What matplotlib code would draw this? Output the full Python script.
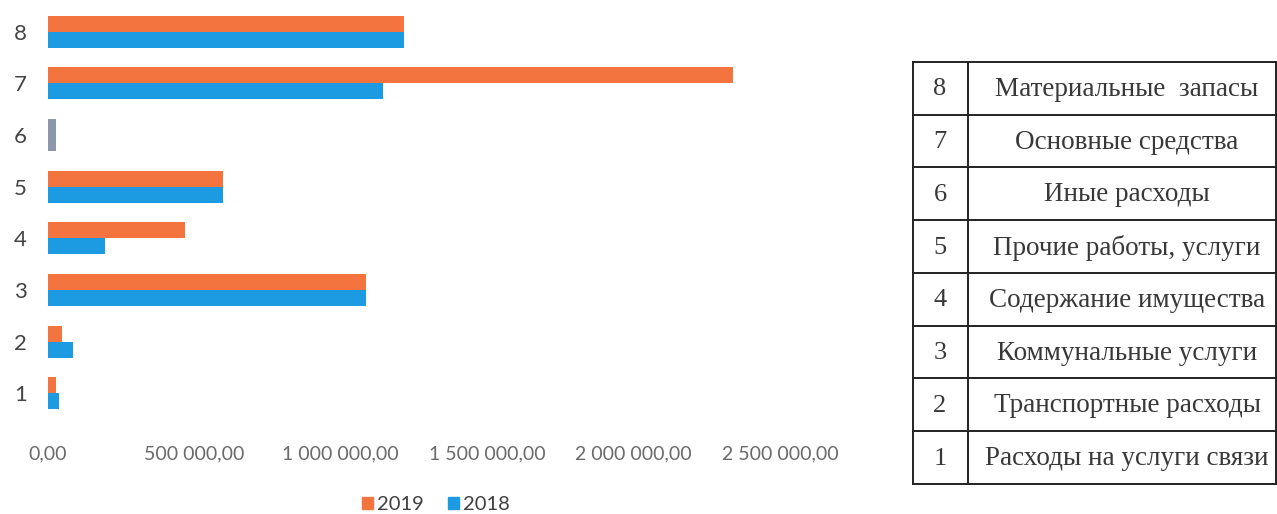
import matplotlib
matplotlib.use("Agg")
import matplotlib.pyplot as plt
from matplotlib.ticker import FuncFormatter, FixedLocator
from matplotlib.patches import Patch
import numpy as np

categories = ["1", "2", "3", "4", "5", "6", "7", "8"]
values_2019 = [27000, 48000, 1085000, 467000, 597000, 27000, 2340000, 1215000]
values_2018 = [37000, 85000, 1085000, 195000, 597000, 27000, 1143000, 1215000]
series_labels = ["2019", "2018"]
x_ticks = [0, 500000, 1000000, 1500000, 2000000, 2500000]
table_names = [
    "Расходы на услуги связи",
    "Транспортные расходы",
    "Коммунальные услуги",
    "Содержание имущества",
    "Прочие работы, услуги",
    "Иные расходы",
    "Основные средства",
    "Материальные  запасы",
]

W, H = 1277, 514
fig = plt.figure(figsize=(W / 100, H / 100), dpi=100)

C2019 = "#F4743F"
C2018 = "#1C9BE3"
CGREY = "#8C97AB"

def px_axes(x0, y0, x1, y1):
    return fig.add_axes([x0 / W, 1 - y1 / H, (x1 - x0) / W, (y1 - y0) / H])

ax = px_axes(48, 6, 780, 419)
y = np.arange(1, len(categories) + 1)
h = 0.31
col19 = [CGREY if c == "6" else C2019 for c in categories]
col18 = [CGREY if c == "6" else C2018 for c in categories]
ax.barh(y + h / 2, values_2019, height=h, color=col19, label=series_labels[0])
ax.barh(y - h / 2, values_2018, height=h, color=col18, label=series_labels[1])
ax.set_ylim(0.5, len(categories) + 0.5)
ax.set_xlim(0, 2500000)
ax.set_yticks(y)
ax.set_yticklabels(categories)
ax.xaxis.set_major_locator(FixedLocator(x_ticks))

def fmt(v, pos):
    return f"{v:,.2f}".replace(",", " ").replace(".", ",")

ax.xaxis.set_major_formatter(FuncFormatter(fmt))
for s in ax.spines.values():
    s.set_visible(False)
ax.tick_params(axis="both", length=0)
ax.tick_params(axis="y", pad=20, labelsize=16, labelcolor="#444444")
ax.tick_params(axis="x", pad=19, labelsize=14, labelcolor="#6a6a6a")
for t in ax.get_xticklabels() + ax.get_yticklabels():
    t.set_fontfamily("Lato")
for t in ax.get_yticklabels():
    t.set_horizontalalignment("center")

handles = [Patch(color=C2019), Patch(color=C2018)]
fig.legend(handles, series_labels, loc="center", bbox_to_anchor=(436 / W, 1 - 505 / H),
           ncol=2, frameon=False, handlelength=0.55, handleheight=0.55,
           handletextpad=0.2, columnspacing=1.2,
           prop={"family": "Lato", "size": 14.5}, labelcolor="#404040")

# Table on the right
tx0, ty0, tx1, ty1 = 913, 62, 1276, 484
tax = px_axes(tx0, ty0, tx1, ty1)
tax.set_xlim(tx0, tx1)
tax.set_ylim(ty1, ty0)
tax.axis("off")
n = len(categories)
rh = (ty1 - ty0) / n
lc = "#222222"
for i in range(n + 1):
    yy = ty0 + i * rh
    tax.plot([tx0, tx1], [yy, yy], color=lc, lw=1.4, clip_on=False)
for xx in (tx0, 968, tx1):
    tax.plot([xx, xx], [ty0, ty1], color=lc, lw=1.4, clip_on=False)
for i in range(n):
    idx = n - 1 - i
    yc = ty0 + (i + 0.5) * rh + 1
    tax.text(940, yc, categories[idx], ha="center", va="center",
             fontfamily="Liberation Serif", fontsize=19, color="#383838")
    tax.text(1127, yc, table_names[idx], ha="center", va="center",
             fontfamily="Liberation Serif", fontsize=19.5, color="#383838")

fig.savefig("out.png", dpi=100)
